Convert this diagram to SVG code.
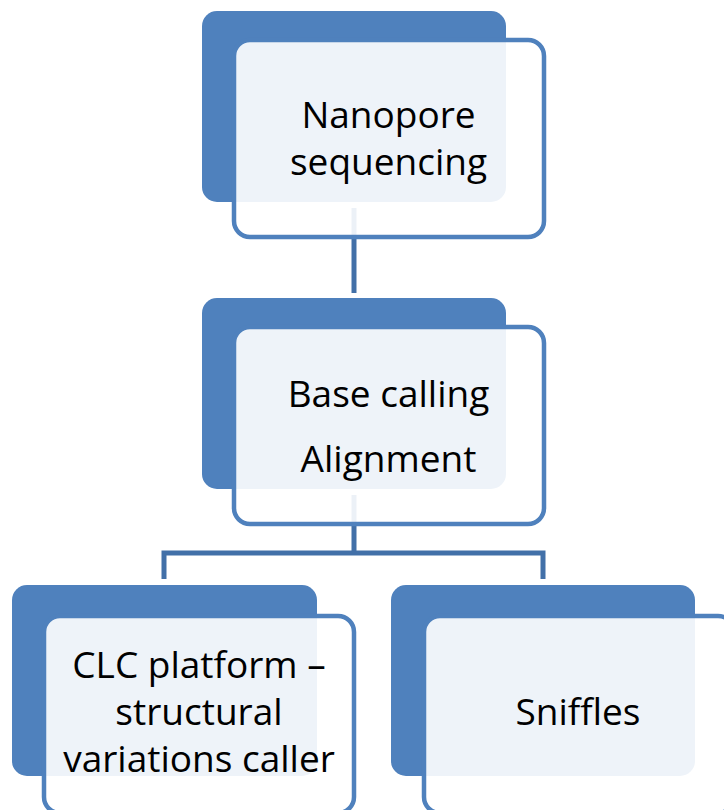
<svg xmlns="http://www.w3.org/2000/svg" width="724" height="810" viewBox="0 0 724 810">
<style>
.back{fill:#4F81BD;}
.front{fill:#FFFFFF;fill-opacity:0.9;stroke:#4F81BD;stroke-width:4.5;}
.conn{fill:none;stroke:#4270A8;stroke-width:5;}
text{font-family:"Open Sans","Liberation Sans",sans-serif;font-size:37px;fill:#000000;text-anchor:middle;}
</style>
<rect width="724" height="810" fill="#FFFFFF"/>
<g id="n1-back"><rect class="back" x="202" y="11" width="304" height="191" rx="15"/></g>
<g id="n2-back"><rect class="back" x="202" y="298" width="304" height="191" rx="15"/></g>
<g id="n3-back"><rect class="back" x="12" y="585" width="305" height="191" rx="15"/></g>
<g id="n4-back"><rect class="back" x="391" y="585" width="304" height="191" rx="15"/></g>
<g id="connectors">
<path class="conn" d="M354 208 V293"/>
<path class="conn" d="M354 495 V553 M164 579 V553 H543 V579"/>
</g>
<g id="n1">
<rect class="front" x="234" y="40" width="310" height="197" rx="16"/>
<text x="388.5" y="128">Nanopore</text>
<text x="388.5" y="175">sequencing</text>
</g>
<g id="n2">
<rect class="front" x="234" y="327" width="310" height="197" rx="16"/>
<text x="388.5" y="407">Base calling</text>
<text x="388.5" y="472">Alignment</text>
</g>
<g id="n3">
<rect class="front" x="44" y="616" width="310" height="197" rx="16"/>
<text x="199" y="678">CLC platform –</text>
<text x="199" y="725">structural</text>
<text x="199" y="772">variations caller</text>
</g>
<g id="n4">
<rect class="front" x="424" y="616" width="310" height="197" rx="16"/>
<text x="578" y="725">Sniffles</text>
</g>
</svg>
